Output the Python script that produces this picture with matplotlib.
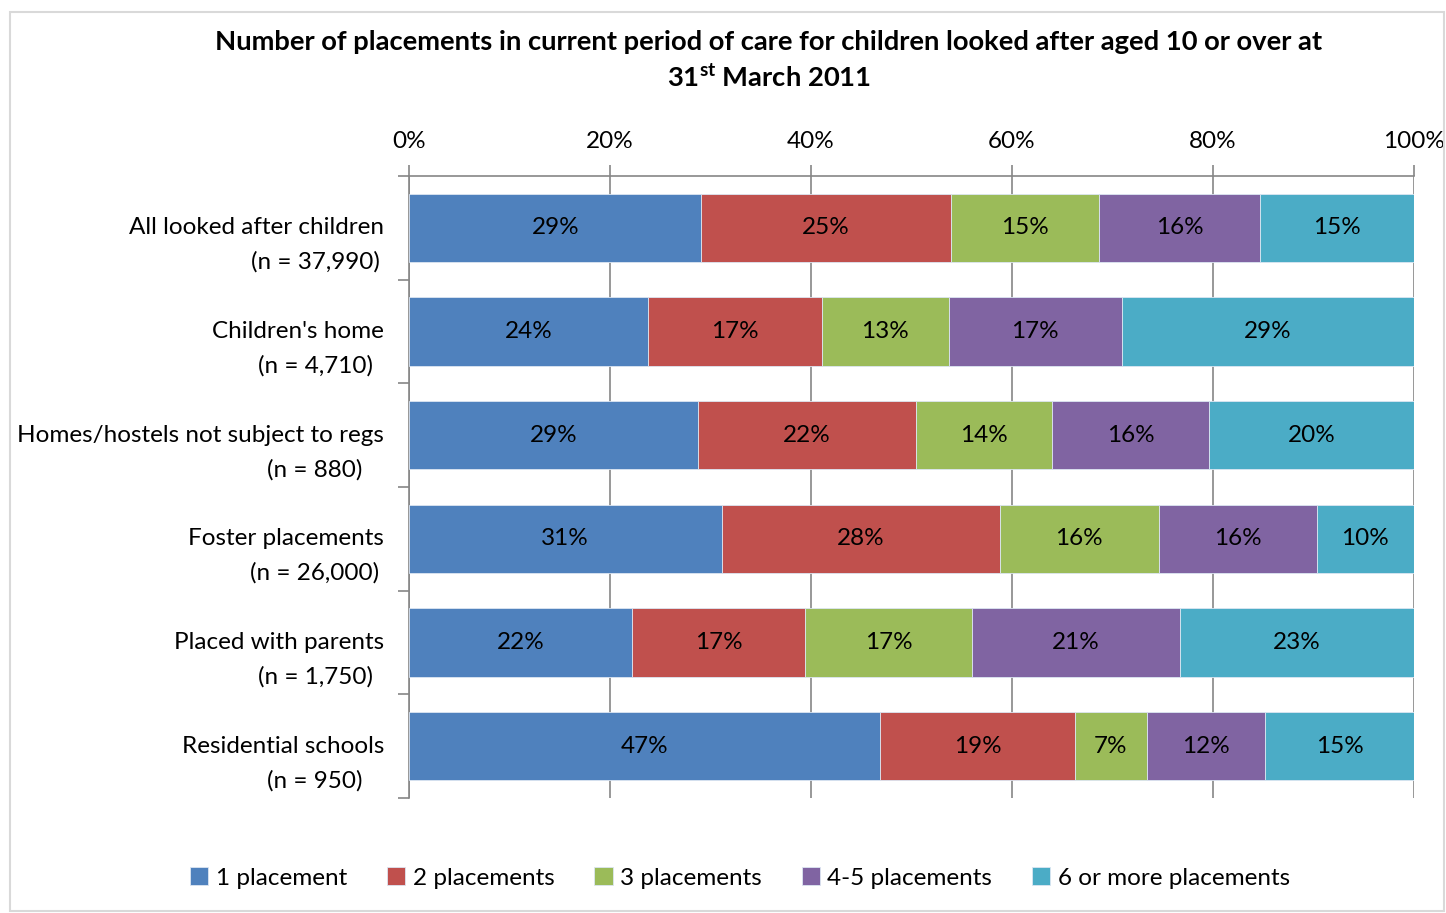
import matplotlib
matplotlib.use("Agg")
import matplotlib.pyplot as plt
from matplotlib.patches import Rectangle
import matplotlib.transforms as mtransforms
import numpy as np

plt.rcParams['font.family'] = ['Lato', 'DejaVu Sans']
plt.rcParams['mathtext.fontset'] = 'custom'
plt.rcParams['mathtext.rm'] = 'Lato'
plt.rcParams['mathtext.bf'] = 'Lato:bold'

categories = ["All looked after children", "Children's home", "Homes/hostels not subject to regs",
              "Foster placements", "Placed with parents", "Residential schools"]
sample_sizes = ["(n = 37,990)", "(n = 4,710)", "(n = 880)", "(n = 26,000)", "(n = 1,750)", "(n = 950)"]
series_names = ["1 placement", "2 placements", "3 placements", "4-5 placements", "6 or more placements"]

one_placement = [29.1, 23.8, 28.8, 31.1, 22.2, 46.9]
two_placements = [24.8, 17.3, 21.6, 27.7, 17.2, 19.4]
three_placements = [14.8, 12.6, 13.6, 15.8, 16.6, 7.1]
four_five_placements = [16.0, 17.2, 15.6, 15.7, 20.7, 11.8]
six_plus_placements = [15.3, 29.1, 20.4, 9.7, 23.3, 14.8]

colors = ["#4F81BD", "#C0504D", "#9BBB59", "#8064A2", "#4BACC6"]

series = [one_placement, two_placements, three_placements, four_five_placements, six_plus_placements]

FS = 17.5

fig = plt.figure(figsize=(14.46, 9.13), dpi=100)
ax = fig.add_axes([409/1446, 1 - 798/913, (1414-409)/1446, (798-176)/913])

# outer border
fig.patches.append(Rectangle((10/1446, 2/913), 1434/1446, 899/913, transform=fig.transFigure,
                             fill=False, edgecolor="#D9D9D9", linewidth=1.5))

y = np.arange(len(categories))
left = np.zeros(len(categories))
for vals, col, name in zip(series, colors, series_names):
    vals = np.array(vals)
    ax.barh(y, vals, left=left, height=0.66, color=col, edgecolor="#DCE6F2",
            linewidth=0.6, label=name, zorder=3)
    for yi, l, v in zip(y, left, vals):
        ax.text(l + v / 2, yi, f"{v:.0f}%", ha="center", va="center", fontsize=FS, zorder=4)
    left = left + vals

ax.set_xlim(0, 100)
ax.set_ylim(len(categories) - 0.5, -0.5)
ax.xaxis.tick_top()
ax.set_xticks(np.arange(0, 101, 20))
ax.set_xticklabels([f"{t}%" for t in range(0, 101, 20)], fontsize=FS)
ax.tick_params(axis="x", length=8, color="#868686", pad=9, width=1.2)
ax.grid(axis="x", color="#868686", linewidth=1.2, zorder=0)

# category labels: name on the bar centre, sample size underneath
ax.set_yticks([])
ax.set_yticks(np.arange(-0.5, len(categories)), minor=True)
ax.tick_params(axis="y", which="minor", length=8, color="#868686", width=1.2)
trans = mtransforms.blended_transform_factory(fig.transFigure, ax.transData)
for yi, cat, n in zip(y, categories, sample_sizes):
    ax.text(384/1446, yi, cat, transform=trans, ha="right", va="center", fontsize=FS)
    ax.text(315/1446, yi + 0.33, n, transform=trans, ha="center", va="center", fontsize=FS)

for s in ["right", "bottom"]:
    ax.spines[s].set_visible(False)
for s in ["top", "left"]:
    ax.spines[s].set_color("#868686")
    ax.spines[s].set_linewidth(1.2)

fig.text(769/1446, 1 - 42/913, "Number of placements in current period of care for children looked after aged 10 or over at",
         ha="center", va="center", fontsize=19.75, fontweight="bold")
fig.text(769/1446, 1 - 77/913, r"31$^{\mathbf{st}}$ March 2011",
         ha="center", va="center", fontsize=19.75, fontweight="bold")

handles, labels = ax.get_legend_handles_labels()
fig.legend(handles, labels, loc="center", bbox_to_anchor=(740/1446, 1 - 878/913), ncol=5,
           frameon=False, fontsize=FS, handlelength=0.75, handleheight=0.75,
           handletextpad=0.3, columnspacing=1.65)

fig.savefig("out.png", dpi=100)
